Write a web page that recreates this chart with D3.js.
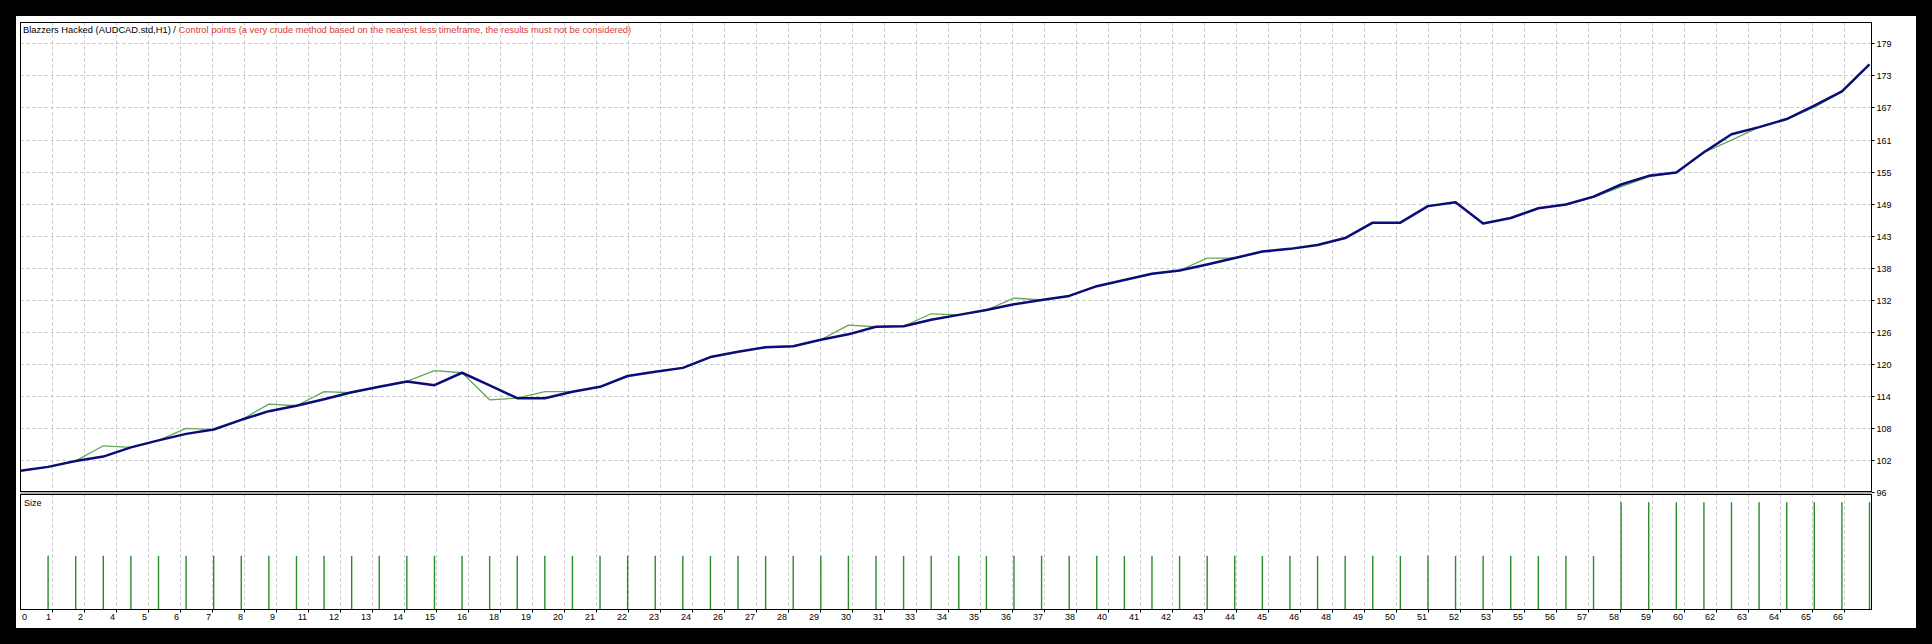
<!DOCTYPE html>
<html><head><meta charset="utf-8">
<script src="https://cdn.jsdelivr.net/npm/d3@7"></script>
<style>html,body{margin:0;padding:0;background:#000;overflow:hidden;} svg{display:block;}</style>
</head><body>
<svg id="c" width="1932" height="644"></svg>
<script>
// ---------- data ----------
const balance = [100.0,100.7,101.8,102.6,104.3,105.6,106.8,107.6,109.4,111.0,
  112.0,113.2,114.5,115.5,116.5,115.8,118.1,115.75,113.4,113.4,
  114.6,115.5,117.5,118.3,119.0,121.0,122.0,122.8,123.0,124.2,
  125.2,126.6,126.7,127.9,128.8,129.7,130.75,131.55,132.3,134.1,
  135.25,136.4,137.0,138.1,139.3,140.5,141.0,141.7,143.0,145.85,
  145.85,148.9,149.6,145.7,146.7,148.5,149.2,150.65,152.9,154.5,
  155.1,158.85,162.2,163.5,165.0,167.5,170.1,175.1];
const equity = [100.0,100.7,101.8,104.6,104.3,105.6,107.8,107.6,109.4,112.3,
  112.0,114.6,114.4,115.5,116.5,118.5,118.1,113.1,113.4,114.6,
  114.6,115.5,117.5,118.3,119.0,121.0,122.0,122.8,123.0,124.2,
  126.9,126.6,126.7,129.0,128.8,129.7,131.9,131.55,132.3,134.1,
  135.25,136.4,137.0,139.3,139.3,140.5,141.0,141.7,143.0,145.85,
  145.85,148.9,149.6,145.7,146.7,148.5,149.2,150.5,152.5,154.3,
  155.1,158.85,161.1,163.5,165.0,167.2,170.0,175.1];
// lot size of trades 1..67
const lotSize = [0.01,0.01,0.01,0.01,0.01,0.01,0.01,0.01,0.01,0.01,
  0.01,0.01,0.01,0.01,0.01,0.01,0.01,0.01,0.01,0.01,
  0.01,0.01,0.01,0.01,0.01,0.01,0.01,0.01,0.01,0.01,
  0.01,0.01,0.01,0.01,0.01,0.01,0.01,0.01,0.01,0.01,
  0.01,0.01,0.01,0.01,0.01,0.01,0.01,0.01,0.01,0.01,
  0.01,0.01,0.01,0.01,0.01,0.01,0.01,0.02,0.02,0.02,
  0.02,0.02,0.02,0.02,0.02,0.02,0.02];
const xTickLabels = ['0','1','2','4','5','6','7','8','9','11','12','13','14','15','16','18','19','20','21','22','23','24',
  '26','27','28','29','30','31','33','34','35','36','37','38','40','41','42','43','44','45','46',
  '48','49','50','51','52','53','55','56','57','58','59','60','62','63','64','65','66'];
const yTickLabels = ['96','102','108','114','120','126','132','138','143','149','155','161','167','173','179'];
const titleMain = 'Blazzers Hacked (AUDCAD.std,H1) / ';
const titleNote = 'Control points (a very crude method based on the nearest less timeframe, the results must not be considered)';
const sizeLabel = 'Size';

// ---------- layout ----------
const W = 1932, H = 644;
const L = 20.5, R = 1871.5;
const mainTop = 22.5, mainBottom = 491.5;
const sizeTop = 494.5, sizeBottom = 609.5;
const gridStep = 32;
const FONT = 'Tahoma, "Liberation Sans", Arial, sans-serif';
const gridColor = '#c4c4c4';

const svg = d3.select('#c');
svg.append('rect').attr('width', W).attr('height', H).attr('fill', '#000');
svg.append('rect').attr('x', 16).attr('y', 16).attr('width', 1900).attr('height', 612).attr('fill', '#fff');

const x = d3.scaleLinear().domain([0, balance.length - 1]).range([L, R - 2]);
const yMin = +yTickLabels[0], yMax = +yTickLabels[yTickLabels.length - 1];
const y = d3.scaleLinear().domain([yMin, yMax]).range([492.3, 43.3]);
const yTicks = yTickLabels.map((_, i) => yMin + i * (yMax - yMin) / (yTickLabels.length - 1));
const ys = d3.scaleLinear().domain([0, d3.max(lotSize)]).range([sizeBottom, 502.2]);

// vertical grid positions (pixel-based like the terminal)
const gridX = xTickLabels.map((_, k) => L + k * gridStep);

// ---------- grids ----------
const g = svg.append('g');
gridX.slice(1).forEach(gx => {
  g.append('line').attr('x1', gx).attr('x2', gx).attr('y1', mainTop).attr('y2', mainBottom)
    .attr('stroke', gridColor).attr('stroke-dasharray', '3,3');
  g.append('line').attr('x1', gx).attr('x2', gx).attr('y1', sizeTop).attr('y2', sizeBottom)
    .attr('stroke', gridColor).attr('stroke-dasharray', '3,3');
});
yTicks.slice(1).forEach(v => {
  const yy = Math.round(y(v)) + 0.5;
  g.append('line').attr('x1', L).attr('x2', R).attr('y1', yy).attr('y2', yy)
    .attr('stroke', gridColor).attr('stroke-dasharray', '3,3');
});

// ---------- lines ----------
svg.append('clipPath').attr('id', 'clipMain').append('rect')
  .attr('x', L).attr('y', mainTop).attr('width', R - L).attr('height', mainBottom - mainTop);
const line = d3.line().x((d, i) => x(i)).y(d => y(d));
const lg = svg.append('g').attr('clip-path', 'url(#clipMain)');
lg.append('path').datum(equity).attr('d', line).attr('fill', 'none')
  .attr('stroke', '#62a85a').attr('stroke-width', 1.3).attr('stroke-linejoin', 'round');
lg.append('path').datum(balance).attr('d', line).attr('fill', 'none')
  .attr('stroke', '#0c0c78').attr('stroke-width', 2.5).attr('stroke-linejoin', 'round');

// ---------- size bars ----------
svg.append('g').selectAll('line').data(lotSize).join('line')
  .attr('x1', (d, i) => x(i + 1)).attr('x2', (d, i) => x(i + 1))
  .attr('y1', ys(0)).attr('y2', d => ys(d))
  .attr('stroke', '#2a8c2a').attr('stroke-width', 1.4);

// ---------- frames ----------
svg.append('rect').attr('x', L).attr('y', mainTop).attr('width', R - L).attr('height', mainBottom - mainTop)
  .attr('fill', 'none').attr('stroke', '#000');
svg.append('rect').attr('x', L).attr('y', mainBottom + 0.5).attr('width', R - L).attr('height', sizeTop - mainBottom - 1)
  .attr('fill', '#b0b0b0');
svg.append('rect').attr('x', L).attr('y', sizeTop).attr('width', R - L).attr('height', sizeBottom - sizeTop)
  .attr('fill', 'none').attr('stroke', '#000');

// ---------- right axis ----------
const ax = svg.append('g').attr('font-family', FONT).attr('font-size', 9).attr('fill', '#000');
yTicks.forEach((v, i) => {
  const yy = Math.round(y(v)) + 0.5;
  ax.append('line').attr('x1', R).attr('x2', R + 3).attr('y1', yy).attr('y2', yy).attr('stroke', '#000');
  ax.append('text').attr('x', R + 5).attr('y', yy + 3.3).text(yTickLabels[i]);
});

// ---------- bottom axis ----------
xTickLabels.forEach((lab, k) => {
  const gx = gridX[k];
  if (k > 0) ax.append('line').attr('x1', gx).attr('x2', gx).attr('y1', sizeBottom).attr('y2', sizeBottom + 3).attr('stroke', '#000');
  ax.append('text').attr('x', k === 0 ? gx + 1.5 : gx - 1.5).attr('y', 620.3)
    .attr('text-anchor', k === 0 ? 'start' : 'end').text(lab);
});

// ---------- titles ----------
const title = svg.append('text').attr('x', 23).attr('y', 32.8).attr('font-family', FONT).attr('font-size', 9);
title.append('tspan').attr('fill', '#000').text(titleMain);
title.append('tspan').attr('fill', '#d83a3a').text(titleNote);
const tl = title.node().getComputedTextLength();
title.attr('font-size', (9 * 609 / tl).toFixed(2));
svg.append('text').attr('x', 24).attr('y', 505.8).attr('font-family', FONT).attr('font-size', 9).attr('fill', '#000').text(sizeLabel);
</script>
</body></html>
